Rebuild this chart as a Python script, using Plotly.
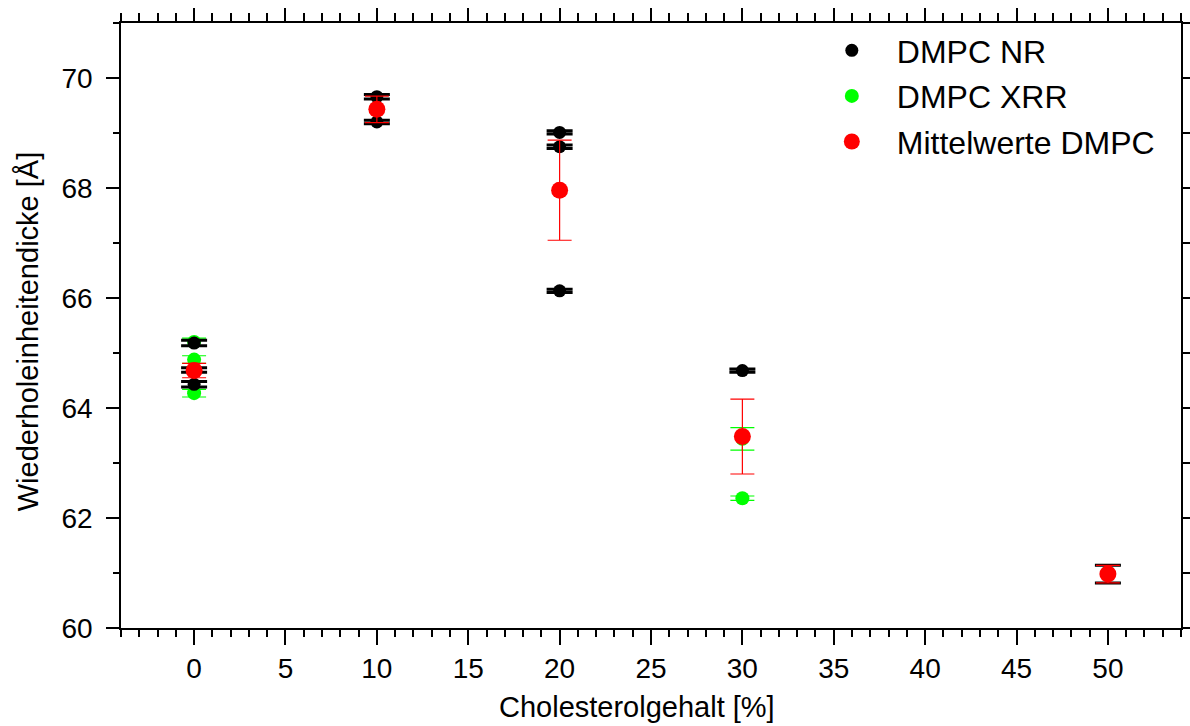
import plotly.graph_objects as go


# ==========================================================
# DATA
# ==========================================================

nr_x = [0, 0, 0, 10, 10, 20, 20, 20, 30, 50]
nr_y = [65.18, 64.69, 64.43, 69.66, 69.20, 69.01, 68.75, 66.13, 64.68, 60.98]
nr_err = [0.05, 0.04, 0.05, 0.04, 0.03, 0.03, 0.03, 0.03, 0.03, 0.16]

xrr_x = [0, 0, 0, 30, 30]
xrr_y = [65.2, 64.88, 64.27, 63.44, 62.36]
xrr_err = [0.07, 0.07, 0.07, 0.205, 0.04]

mean_x = [0, 10, 20, 30, 50]
mean_y = [64.68, 69.43, 67.96, 63.48, 60.98]
mean_err = [0.13, 0.24, 0.91, 0.68, 0.16]

x_ticks = [0, 5, 10, 15, 20, 25, 30, 35, 40, 45, 50]
y_ticks = [60, 62, 64, 66, 68, 70]

FONT = "Liberation Sans, Arial, sans-serif"


# ==========================================================
# TRACES
# ==========================================================
# XRR goes first so the NR points sit on top of it (as in the
# original), legendrank keeps the legend order NR / XRR / mean.

fig = go.Figure()

fig.add_trace(go.Scatter(
    x=xrr_x, y=xrr_y, mode="markers", name="DMPC XRR",
    legendgroup="xrr", legendrank=2,
    marker=dict(color="#00ff00", size=14),
    error_y=dict(type="data", array=xrr_err, color="#00ff00", thickness=1.2, width=12),
))

fig.add_trace(go.Scatter(
    x=nr_x, y=nr_y, mode="markers", name="DMPC NR",
    legendgroup="nr", legendrank=1,
    marker=dict(color="black", size=13),
    error_y=dict(type="data", array=nr_err, color="black", thickness=3, width=13),
))

fig.add_trace(go.Scatter(
    x=mean_x, y=mean_y, mode="markers", name="Mittelwerte DMPC",
    legendgroup="mean", legendrank=3,
    marker=dict(color="#ff0000", size=17),
    error_y=dict(type="data", array=mean_err, color="#ff0000", thickness=1.2, width=12),
))

# dummy trace so the top / right frame axes get drawn
fig.add_trace(go.Scatter(
    x=[None], y=[None], xaxis="x2", yaxis="y2",
    showlegend=False, hoverinfo="skip",
))


# ==========================================================
# LAYOUT
# ==========================================================

fig.update_layout(
    width=1190,
    height=726,
    paper_bgcolor="white",
    plot_bgcolor="white",
    font=dict(family=FONT, size=28, color="black"),
    margin=dict(l=121, r=9, t=23, b=98),
    showlegend=True,
    legend=dict(
        x=0.647, y=1.0, xanchor="left", yanchor="top",
        font=dict(size=32),
        bgcolor="rgba(0,0,0,0)",
        itemwidth=80,
        tracegroupgap=1,
    ),
    xaxis=dict(
        range=[-4, 54],
        tickvals=x_ticks,
        ticks="outside", ticklen=15, tickwidth=1.5, tickcolor="black",
        minor=dict(dtick=1, tick0=0, ticks="outside", ticklen=7, tickwidth=1.5, tickcolor="black"),
        showline=True, linecolor="black", linewidth=1.5,
        showgrid=False, zeroline=False, automargin=False,
    ),
    yaxis=dict(
        range=[60, 71],
        tickvals=y_ticks,
        ticks="outside", ticklen=13, tickwidth=1.5, tickcolor="black",
        ticklabelstandoff=8,
        minor=dict(dtick=1, tick0=0, ticks="outside", ticklen=6, tickwidth=1.5, tickcolor="black"),
        showline=True, linecolor="black", linewidth=1.5,
        showgrid=False, zeroline=False, automargin=False,
    ),
    xaxis2=dict(
        overlaying="x", side="top", range=[-4, 54],
        tick0=0, dtick=5,
        ticks="outside", ticklen=13, tickwidth=1.5, tickcolor="black",
        minor=dict(dtick=1, tick0=0, ticks="outside", ticklen=8, tickwidth=1.5, tickcolor="black"),
        showticklabels=False,
        showline=True, linecolor="black", linewidth=1.5,
        showgrid=False, zeroline=False, automargin=False,
    ),
    yaxis2=dict(
        overlaying="y", side="right", range=[60, 71],
        tick0=60, dtick=1,
        ticks="outside", ticklen=9, tickwidth=1.5, tickcolor="black",
        showticklabels=False,
        showline=True, linecolor="black", linewidth=1.5,
        showgrid=False, zeroline=False, automargin=False,
    ),
)

# axis titles placed as paper annotations to match the reference position
fig.add_annotation(
    text="Cholesterolgehalt [%]", xref="paper", yref="paper",
    x=0.487, y=-0.1, xanchor="center", yanchor="top",
    showarrow=False, font=dict(size=29),
)
fig.add_annotation(
    text="Wiederholeinheitendicke [Å]", xref="paper", yref="paper",
    x=-0.088, y=0.49, xanchor="center", yanchor="middle", textangle=-90,
    showarrow=False, font=dict(size=29),
)

# the page's default body margin would shift the figure by 8 px
fig.write_html(
    "out.html",
    config={"displayModeBar": False},
    post_script="document.body.style.margin = '0';",
)
